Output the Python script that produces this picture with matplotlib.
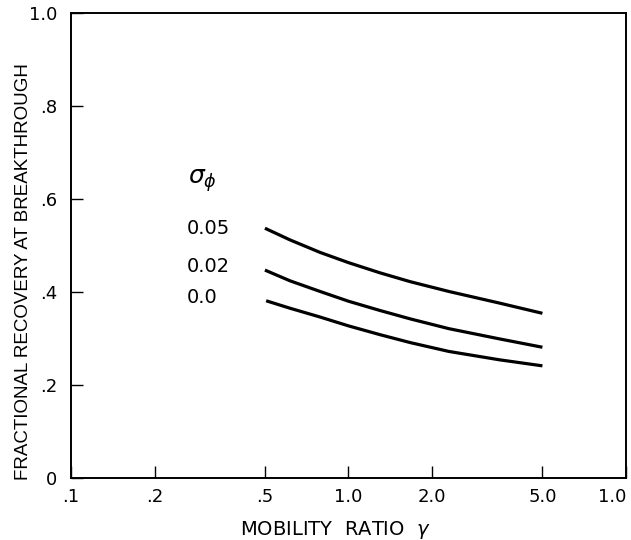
import matplotlib
matplotlib.use("Agg")
import matplotlib.pyplot as plt
import matplotlib.ticker as plticker

# mobility ratio values
gamma = [0.5, 0.615, 0.79, 1.0, 1.3, 1.67, 2.3, 3.5, 5.0]
gamma_00 = [0.505, 0.615, 0.79, 1.0, 1.3, 1.67, 2.3, 3.5, 5.0]

# fractional recovery at breakthrough for each sigma_phi
rec_005 = [0.537, 0.512, 0.485, 0.463, 0.441, 0.422, 0.401, 0.376, 0.354]
rec_002 = [0.447, 0.424, 0.401, 0.380, 0.360, 0.342, 0.321, 0.299, 0.281]
rec_000 = [0.381, 0.365, 0.346, 0.327, 0.308, 0.291, 0.272, 0.254, 0.241]

curve_labels = ["0.05", "0.02", "0.0"]
label_y = [0.537, 0.455, 0.389]

xticks = [0.1, 0.2, 0.5, 1.0, 2.0, 5.0, 10.0]
xtick_labels = [".1", ".2", ".5", "1.0", "2.0", "5.0", "1.0"]
yticks = [0, 0.2, 0.4, 0.6, 0.8, 1.0]
ytick_labels = ["0", ".2", ".4", ".6", ".8", "1.0"]

fig = plt.figure(figsize=(6.31, 5.40), dpi=100)
ax = fig.add_axes([0.1125, 0.115, 0.8795, 0.861])

for g, r in [(gamma, rec_005), (gamma, rec_002), (gamma_00, rec_000)]:
    ax.plot(g, r, color="black", lw=2.3, solid_capstyle="butt",
            solid_joinstyle="round")

ax.set_xscale("log")
ax.set_xlim(0.1, 10.0)
ax.set_ylim(0, 1.0)
ax.xaxis.set_minor_locator(plticker.NullLocator())
ax.set_xticks(xticks)
ax.set_xticklabels(xtick_labels)
ax.set_yticks(yticks)
ax.set_yticklabels(ytick_labels)
ax.tick_params(direction="in", length=8.5, width=1, labelsize=13,
               top=False, right=False)
ax.tick_params(axis="x", pad=7)
ax.tick_params(axis="y", pad=10)
ax.get_xticklabels()[-1].set_horizontalalignment("right")

for s in ax.spines.values():
    s.set_linewidth(1.4)

# axis titles placed as figure text
fig.text(24 / 631, 1 - 272 / 540, "FRACTIONAL RECOVERY AT BREAKTHROUGH",
         rotation=90, ha="center", va="center", fontsize=13.5,
         family="Liberation Sans")
fig.text(335 / 631, 1 - 530 / 540, "MOBILITY  RATIO  $\\gamma$",
         ha="center", va="center", fontsize=14)

ax.text(0.264, 0.64, r"$\sigma_{\phi}$", fontsize=18, ha="left", va="center")
for lab, y in zip(curve_labels, label_y):
    ax.text(0.262, y, lab, fontsize=14, ha="left", va="center")

fig.savefig("out.png", dpi=100)
